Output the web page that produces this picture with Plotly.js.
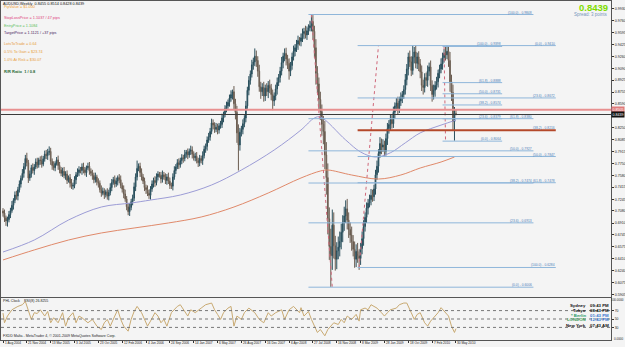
<!DOCTYPE html>
<html><head><meta charset="utf-8">
<script src="https://cdn.plot.ly/plotly-3.0.1.min.js"></script>
<style>html,body{margin:0;padding:0;background:#f4f4f4}#c{width:625px;height:347px}</style>
</head><body><div id="c"></div>
<script>
// ---------- DATA ----------
const firstOpen = 0.7080;
const closes = [
0.7050,0.6985,0.6940,0.6960,0.7030,0.7085,0.7160,0.7230,0.7305,0.7290,
0.7380,0.7460,0.7540,0.7610,0.7705,0.7820,0.7760,0.7545,0.7600,0.7690,
0.7650,0.7700,0.7770,0.7730,0.7800,0.7790,0.7740,0.7815,0.7880,0.7860,
0.7905,0.7920,0.7780,0.7720,0.7690,0.7750,0.7800,0.7720,0.7660,0.7610,
0.7640,0.7580,0.7600,0.7510,0.7550,0.7470,0.7430,0.7440,0.7520,0.7590,
0.7620,0.7660,0.7650,0.7700,0.7660,0.7620,0.7690,0.7710,0.7640,0.7610,
0.7580,0.7520,0.7560,0.7490,0.7470,0.7380,0.7330,0.7360,0.7310,0.7350,
0.7290,0.7340,0.7410,0.7480,0.7520,0.7460,0.7500,0.7550,0.7520,0.7440,
0.7390,0.7320,0.7250,0.7140,0.7070,0.7130,0.7210,0.7260,0.7420,0.7560,
0.7680,0.7710,0.7620,0.7560,0.7500,0.7410,0.7380,0.7330,0.7300,0.7390,
0.7460,0.7510,0.7480,0.7560,0.7600,0.7580,0.7530,0.7590,0.7560,0.7510,
0.7560,0.7500,0.7440,0.7430,0.7560,0.7650,0.7700,0.7760,0.7730,0.7790,
0.7830,0.7820,0.7880,0.7910,0.7870,0.7920,0.7940,0.7880,0.7830,0.7850,
0.7790,0.7760,0.7820,0.7790,0.7860,0.7950,0.7990,0.8080,0.8120,0.8200,
0.8320,0.8290,0.8230,0.8260,0.8220,0.8280,0.8300,0.8390,0.8440,0.8520,
0.8560,0.8610,0.8670,0.8720,0.8760,0.8590,0.8470,0.8180,0.8010,0.8190,
0.8230,0.8310,0.8390,0.8560,0.8780,0.8920,0.9010,0.9140,0.9180,0.9260,
0.9200,0.9050,0.8830,0.8760,0.8820,0.8700,0.8810,0.8760,0.8850,0.8810,
0.8720,0.8630,0.8700,0.8800,0.8890,0.8960,0.9050,0.9170,0.9260,0.9300,
0.9220,0.9160,0.9050,0.9130,0.9250,0.9330,0.9380,0.9430,0.9480,0.9470,
0.9520,0.9580,0.9610,0.9560,0.9620,0.9660,0.9690,0.9750,0.9610,0.9380,
0.9020,0.8870,0.8650,0.8480,0.8300,0.8200,0.7870,0.7550,0.6970,0.6580,
0.6450,0.6880,0.6590,0.6400,0.6520,0.6570,0.6650,0.6780,0.6920,0.7010,
0.7110,0.6950,0.6820,0.6740,0.6650,0.6540,0.6400,0.6510,0.6450,0.6410,
0.6550,0.6690,0.6860,0.6990,0.7120,0.7190,0.7240,0.7300,0.7280,0.7390,
0.7590,0.7710,0.7890,0.8030,0.7980,0.8010,0.7920,0.8100,0.8240,0.8300,
0.8370,0.8310,0.8470,0.8560,0.8600,0.8520,0.8630,0.8680,0.8720,0.8790,
0.8930,0.9080,0.9250,0.9180,0.9060,0.9250,0.9320,0.9160,0.9250,0.9150,
0.9040,0.8850,0.8820,0.8960,0.8920,0.9050,0.9110,0.8850,0.8720,0.8780,
0.8850,0.8900,0.9020,0.9080,0.9150,0.9240,0.9300,0.9280,0.9330,0.9200,
0.8900,0.8750,0.8340,0.8455,0.8439];
// wick lengths above / below the body, in 0.001 units
const upperWick = [
4,5,3,4,5,4,6,3,5,6,4,5,4,6,5,5,8,4,5,4,
6,4,5,6,3,5,7,4,5,6,5,7,5,4,6,3,4,6,5,4,
5,6,4,5,3,5,6,4,5,4,6,5,4,5,6,4,3,5,6,4,
5,4,6,3,5,4,6,5,4,3,5,4,6,5,4,6,5,3,5,6,
4,5,6,4,5,6,4,5,6,5,11,4,5,6,4,5,4,6,5,4,
5,4,6,5,4,3,5,6,4,5,4,6,5,4,5,6,4,5,6,4,
5,4,6,3,5,4,6,5,4,5,6,4,5,4,6,5,4,5,6,5,
6,5,4,6,5,4,5,6,4,5,6,4,5,6,3,8,7,9,12,6,
5,6,4,7,5,6,5,7,6,11,8,6,9,7,6,8,5,7,6,8,
6,7,5,6,7,5,6,8,5,7,8,6,7,5,6,8,5,6,7,5,
6,7,5,8,6,5,7,10,9,8,12,10,9,11,10,12,15,18,20,16,
25,22,18,14,12,15,14,12,10,13,12,14,11,10,12,9,11,10,12,9,
8,10,9,7,8,6,7,9,8,6,7,8,6,9,7,8,6,7,8,6,
7,6,8,5,7,9,6,7,5,6,8,7,6,9,8,16,7,9,6,8,
7,9,8,6,7,8,6,9,7,8,6,7,5,6,8,7,6,9,8,7,
12,10,11,9,5.9];
const lowerWick = [
5,6,7,8,4,5,3,6,4,5,6,4,5,3,6,4,5,7,4,5,
4,6,3,5,4,6,5,3,4,5,6,4,5,6,4,5,3,6,5,4,
5,4,6,5,3,6,4,5,4,6,3,5,4,6,5,4,6,3,5,4,
6,5,4,5,6,4,5,3,6,4,5,6,4,5,3,5,4,6,5,4,
5,6,4,5,5,6,4,5,4,6,5,4,6,5,4,5,6,4,5,6,
4,5,6,4,5,3,6,5,4,5,6,4,5,4,6,4,5,3,6,4,
5,6,4,5,6,4,5,6,4,5,4,6,5,4,6,4,5,6,4,5,
4,6,5,4,6,5,4,5,6,4,5,4,6,5,7,9,10,14,36,8,
6,7,5,6,4,7,6,5,7,6,9,8,7,10,6,8,7,6,9,7,
8,13,7,6,8,5,7,6,8,7,9,8,12,7,6,5,7,6,8,6,
7,6,8,5,7,6,5,8,12,14,16,13,14,12,16,18,20,24,22,19,
44,20,18,16,14,12,13,11,14,12,10,13,12,11,13,10,12,11,10,16,
9,8,10,7,8,9,6,8,7,6,8,7,9,6,10,7,8,6,9,7,
8,7,6,9,7,8,6,7,8,6,7,8,9,7,8,6,9,7,8,10,
9,8,10,7,8,9,7,8,10,7,9,6,8,7,6,8,7,8,6,9,
14,12,13,27,1.1];

// moving averages (week index, value)
const maBlueWeek = [0,21,44,66,86,99,119,140,160,182,200,209,213,230,240,250,260,270,280,294,304];
const maBlueVal  = [0.6502,0.6671,0.6953,0.7136,0.7192,0.7234,0.7305,0.7446,0.7657,0.7939,0.8221,0.8390,0.8404,0.8080,0.7911,0.7840,0.7900,0.8040,0.8180,0.8290,0.8360];
const maRedWeek = [0,21,44,66,88,111,133,155,178,200,213,218,234,252,267,280,294,303];
const maRedVal  = [0.6390,0.6531,0.6671,0.6770,0.6840,0.6911,0.6995,0.7136,0.7333,0.7545,0.7643,0.7657,0.7587,0.7530,0.7587,0.7685,0.7770,0.7840];

// RSI(8) samples (week index, value)
const rsiWeek = [0,1,3,6,10,13,15,17,19,21,23,25,28,30,32,34,37,40,42,44,47,49,51,53,57,60,63,66,68,70,72,75,77,79,81,84,86,88,90,93,95,97,99,102,104,106,108,110,113,115,117,119,122,124,126,129,133,136,140,142,144,146,148,151,153,155,157,160,162,165,169,172,175,178,180,183,187,189,192,195,199,
 200,202,205,207,209,211,213,216,218,220,222,225,227,229,231,234,237,239,240,243,245,247,249,251,254,256,258,260,264,266,269,271,274,276,278,280,283,285,287,290,292,294,296,299,301,303,304];
const rsiVal = [64,41,57,72,80,84,92,72,49,65,63,72,57,68,41,53,41,65,33,53,65,41,57,53,41,49,33,25,41,49,33,57,72,49,33,21,49,68,80,65,49,33,45,65,57,41,49,33,65,72,80,84,68,57,72,65,76,84,88,72,61,49,65,76,80,33,57,49,65,76,65,49,41,65,57,65,72,49,72,80,65,
 77,57,68,49,33,18,25,10,25,33,41,37,49,41,57,49,61,45,72,76,72,84,80,76,65,57,65,72,76,84,88,88,65,49,61,65,41,33,45,57,65,77,68,57,33,18,27];

// fibonacci sets: [price at 0%, price at 100%, start week, end week]
const fibLevels = [0, 23.6, 38.2, 50, 61.8, 100];
const fibSet1 = [0.6006, 0.9848, 205, 356];
const fibSet2 = [0.9410, 0.6284, 238, 371];
const fibSet3 = [0.8064, 0.9398, 295, 335];
// dotted anchor lines [week0, price0, week1, price1]
const anchor1 = [207, 0.9848, 221, 0.6006];
const anchor2 = [239, 0.6284, 252, 0.9410];
const anchor3 = [296, 0.9398, 297, 0.8064];
const redLinePrice = 0.8505;
const bidPrice = 0.8439;

const priceTicks = [0.9930,0.9760,0.9595,0.9425,0.9260,0.9090,0.8925,0.8755,0.8590,0.8250,0.8085,0.7915,0.7750,0.7580,0.7415,0.7245,0.7080,0.6910,0.6745,0.6575,0.6410,0.6240,0.6075,0.5905];
const rsiTicks = [30,50,70];
const rsiBounds = ['100.0000','0.0000'];
const dateTicks = ['2004-08-01','2004-11-21','2005-03-13','2005-07-03','2005-10-23','2006-02-12','2006-06-04','2006-09-24','2007-01-14','2007-05-06','2007-08-26','2007-12-16','2008-04-06','2008-07-27','2008-11-16','2009-03-08','2009-06-28','2009-10-18','2010-02-07','2010-05-30'];
const dateLabels = ['1 Aug 2004','21 Nov 2004','13 Mar 2005','3 Jul 2005','23 Oct 2005','12 Feb 2006','4 Jun 2006','24 Sep 2006','14 Jan 2007','6 May 2007','26 Aug 2007','16 Dec 2007','6 Apr 2008','27 Jul 2008','16 Nov 2008','8 Mar 2009','28 Jun 2009','18 Oct 2009','7 Feb 2010','30 May 2010'];

// ---------- BUILD ----------
const W0 = Date.UTC(2004,7,1);
function wd(w){ return new Date(W0 + w*7*864e5).toISOString().slice(0,19).replace('T',' '); }
const xs = closes.map((c,i)=>wd(i));
const opens = closes.map((c,i)=> i===0 ? firstOpen : closes[i-1]);
const highs = closes.map((c,i)=> +(Math.max(opens[i],c) + upperWick[i]/1000).toFixed(4));
const lows  = closes.map((c,i)=> +(Math.min(opens[i],c) - lowerWick[i]/1000).toFixed(4));

const BOT = 340, H = 339;
const px = x => (x-1)/610;
const py = y => (BOT-y)/H;
const FONT = 'Liberation Sans, Arial, sans-serif';

const traces = [
 {type:'candlestick', x:xs, open:opens, high:highs, low:lows, close:closes, xaxis:'x', yaxis:'y',
  increasing:{line:{color:'#2a4f5c',width:1}, fillcolor:'#36687a'},
  decreasing:{line:{color:'#6a5c50',width:1}, fillcolor:'#b3a595'}, whiskerwidth:0, hoverinfo:'skip'},
 {type:'scatter', mode:'lines', x:maBlueWeek.map(wd), y:maBlueVal, line:{color:'#9c9cd6',width:1,shape:'spline'}, xaxis:'x', yaxis:'y', hoverinfo:'skip'},
 {type:'scatter', mode:'lines', x:maRedWeek.map(wd), y:maRedVal, line:{color:'#e0896a',width:1,shape:'spline'}, xaxis:'x', yaxis:'y', hoverinfo:'skip'},
 {type:'scatter', mode:'lines', x:rsiWeek.map(wd), y:rsiVal, line:{color:'#c9aa72',width:1}, xaxis:'x2', yaxis:'y2', hoverinfo:'skip'}
];
[anchor1,anchor2,anchor3].forEach(a=>{
 traces.push({type:'scatter', mode:'lines', x:[wd(a[0]),wd(a[2])], y:[a[1],a[3]], line:{color:'#d0687a',width:1,dash:'dot'}, xaxis:'x', yaxis:'y', hoverinfo:'skip'});
});

const shapes = [];
const annotations = [];
function fib(set, thickIdx){
 fibLevels.forEach((lv,k)=>{
  const p = set[0] + (set[1]-set[0])*lv/100;
  const thick = (k===thickIdx);
  shapes.push({type:'line', xref:'x', yref:'y', x0:wd(set[2]), x1:wd(set[3]), y0:p, y1:p,
   line:{color: thick ? '#b4482a' : '#8fb6da', width: thick ? 2 : 1}});
  annotations.push({xref:'x', yref:'y', x:wd(set[3]), y:p, xanchor:'right', yanchor:'bottom', showarrow:false,
   text:'('+lv.toFixed(1)+') - '+p.toFixed(4), font:{family:FONT,size:3.3,color:'#4f7fb8'}, borderpad:0, yshift:-1});
 });
}
fib(fibSet1,-1); fib(fibSet2,2); fib(fibSet3,-1);
shapes.push({type:'line', xref:'paper', yref:'y', x0:0, x1:1, y0:redLinePrice, y1:redLinePrice, line:{color:'#e89090',width:2}});
shapes.push({type:'line', xref:'paper', yref:'y', x0:0, x1:1, y0:bidPrice, y1:bidPrice, line:{color:'#3a3a3a',width:1}});
rsiTicks.forEach(v=>shapes.push({type:'line', xref:'paper', yref:'y2', x0:0, x1:1, y0:v, y1:v, line:{color:'#777',width:1,dash:'dot'}}));

function txt(t,x,y,color,size,anchor,bold){
 annotations.push({xref:'paper', yref:'paper', x:px(x), y:py(y), xanchor:anchor||'left', yanchor:'middle', showarrow:false,
  text: bold ? '<b>'+t+'</b>' : t, font:{family:FONT,size:size,color:color}, borderpad:0});
}
txt('AUDUSD,Weekly  0.8455 0.8514 0.8428 0.8439',2,3.5,'#111',3.8);
txt('PipValue = $1.000',3,7.5,'#f0a030',3.8);
txt('StopLossPrice = 1.1037 / 47 pips',3,18.3,'#e0407a',3.8);
txt('EntryPrice = 1.1084',3,25.7,'#5cc05c',3.8);
txt('TargetPrice = 1.1121 / +37 pips',3,33.3,'#4a1a60',3.8);
txt('LotsToTrade = 0.64',3,44.3,'#e8a040',3.8);
txt('0.5% To Gain = $23.74',3,52.3,'#e8a040',3.8);
txt('1.0% At Risk = $30.07',3,60,'#e8a040',3.8);
txt('R/R Ratio  1 / 0.8',3,71,'#1f6a30',4,'left',true);
txt('0.8439',609,7,'#7fdc00',9.5,'right',true);
txt('Spread: 3 points',609,14.5,'#7496bb',4.5,'right');
txt('PHL Clock',2,301,'#222',3.6);
txt('RSI(8) 26.8255',23,301,'#222',3.6);
txt('FXDD Malta - MetaTrader 4, \u00a9 2001-2009 MetaQuotes Software Corp.',2,336,'#222',3.6);
txt(rsiBounds[0],624.5,300,'#222',3,'right');
txt(rsiBounds[1],624.5,338.5,'#222',3,'right');
// clocks
const cityNames = ['Sydney','Tokyo','* Berlin','LONDON','New York'];
const cityTimes = ['09:43 PM','08:43 PM','01:43 PM','12:43 PM','07:43 AM'];
const cityY = [305.7,310.3,315,319.7,325.7];
const cityCol = ['#111','#111','#2a9a6a','#3fa060','#111'];
const timeCol = ['#111','#111','#3a78d0','#3a78d0','#111'];
cityNames.forEach((c,i)=>{
 txt(c,587,cityY[i],cityCol[i],4.3,'right',true);
 txt(cityTimes[i],589,cityY[i],timeCol[i],4.3,'left',true);
});
// date labels under the RSI panel, left-aligned at their tick
dateTicks.forEach((d,i)=>{
 annotations.push({xref:'x2', yref:'paper', x:d, y:py(343.4), xanchor:'left', yanchor:'middle', xshift:0.5, showarrow:false,
  text:dateLabels[i], font:{family:FONT,size:3.2,color:'#222'}, borderpad:0});
});
// price boxes on axis
annotations.push({xref:'paper', yref:'y', x:1, y:redLinePrice, xanchor:'left', yanchor:'middle', showarrow:false,
 text:redLinePrice.toFixed(4), font:{family:FONT,size:3.6,color:'#fff'}, bgcolor:'#e07a7a', borderpad:0.5});
annotations.push({xref:'paper', yref:'y', x:1, y:bidPrice, xanchor:'left', yanchor:'middle', showarrow:false,
 text:bidPrice.toFixed(4), font:{family:FONT,size:3.6,color:'#fff'}, bgcolor:'#111', borderpad:0.5});

const xr = [wd(-1.34), wd(408.05)];
const layout = {
 width:625, height:347, margin:{l:1,r:14,t:1,b:7,pad:0},
 paper_bgcolor:'#f4f4f4', plot_bgcolor:'#f4f4f4', showlegend:false,
 font:{family:FONT,size:4,color:'#222'},
 xaxis:{type:'date', range:xr, anchor:'y', showticklabels:false, showgrid:false, zeroline:false,
  showline:true, mirror:true, linecolor:'#555', linewidth:1, ticks:'', rangeslider:{visible:false}, fixedrange:true},
 yaxis:{domain:[(BOT-297)/H,1], range:[0.5868,1.00382], side:'right', tickvals:priceTicks, ticktext:priceTicks.map(v=>v.toFixed(4)),
  ticks:'outside', ticklen:2, tickcolor:'#333', showgrid:false, zeroline:false, showline:true, mirror:true,
  linecolor:'#555', tickfont:{size:3.6,color:'#222'}},
 xaxis2:{type:'date', range:xr, anchor:'y2', tickvals:dateTicks, showticklabels:false, ticks:'outside', ticklen:2,
  tickcolor:'#333', showgrid:false, zeroline:false,
  showline:true, mirror:true, linecolor:'#555', rangeslider:{visible:false}},
 yaxis2:{domain:[0,(BOT-298)/H], range:[0,100], side:'right', tickvals:rsiTicks, ticktext:rsiTicks.map(String),
  ticks:'outside', ticklen:2, tickcolor:'#333', showgrid:false, zeroline:false, showline:true, mirror:true,
  linecolor:'#555', tickfont:{size:3.4,color:'#222'}},
 shapes:shapes, annotations:annotations
};
Plotly.newPlot('c', traces, layout, {staticPlot:true, displayModeBar:false});
</script></body></html>
